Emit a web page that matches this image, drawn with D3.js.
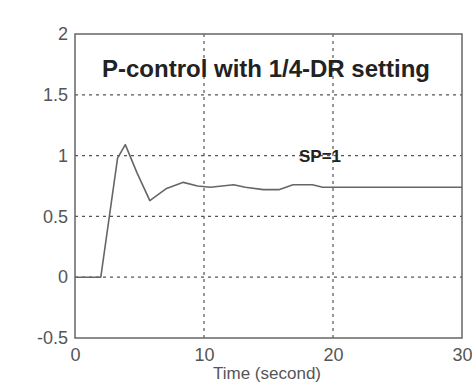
<!DOCTYPE html>
<html><head><meta charset="utf-8">
<script src="https://cdn.jsdelivr.net/npm/d3@7"></script>
<style>body{margin:0;background:#fff;}svg{display:block;}</style>
</head><body>
<script>
const timeVals = [0, 2, 3.3, 3.9, 4.8, 5.8, 7.1, 8.4, 9.5, 10.5, 12.3, 13.2, 14.6, 15.8, 16.9, 18.4, 19.2, 30];
const outputVals = [0, 0, 0.98, 1.09, 0.86, 0.63, 0.73, 0.78, 0.75, 0.74, 0.76, 0.74, 0.72, 0.72, 0.76, 0.76, 0.74, 0.74];
const xTicks = [0, 10, 20, 30];
const yTicks = [-0.5, 0, 0.5, 1, 1.5, 2];
const yTickLabels = ["-0.5", "0", "0.5", "1", "1.5", "2"];
const titleText = "P-control with 1/4-DR setting";
const spLabel = "SP=1";
const xLabel = "Time (second)";

const W = 472, H = 384;
const m = {left: 75, right: 10, top: 34, bottom: 46};
const FONT = "Liberation Sans, Arial, sans-serif";
const svg = d3.select("body").append("svg").attr("width", W).attr("height", H);
const x = d3.scaleLinear().domain([0, 30]).range([m.left, W - m.right]);
const y = d3.scaleLinear().domain([-0.5, 2]).range([H - m.bottom, m.top]);

const grid = svg.append("g").attr("stroke", "#555").attr("stroke-width", 1.2).attr("stroke-dasharray", "3,4");
grid.selectAll("line.h").data(yTicks.slice(1, -1)).enter().append("line")
  .attr("x1", x(0)).attr("x2", x(30)).attr("y1", d => y(d)).attr("y2", d => y(d));
grid.selectAll("line.v").data(xTicks.slice(1, -1)).enter().append("line")
  .attr("y1", y(-0.5)).attr("y2", y(2)).attr("x1", d => x(d)).attr("x2", d => x(d));

svg.append("rect").attr("x", x(0)).attr("y", y(2)).attr("width", x(30) - x(0)).attr("height", y(-0.5) - y(2))
  .attr("fill", "none").attr("stroke", "#666").attr("stroke-width", 1.5);

const xAxis = d3.axisBottom(x).tickValues(xTicks).tickSize(0).tickPadding(10).tickFormat(d3.format("d"));
const gx = svg.append("g").attr("transform", `translate(0,${y(-0.5)})`).call(xAxis);
gx.select(".domain").remove();
gx.selectAll("text").attr("font-family", FONT).attr("font-size", 18).attr("fill", "#555");

const yAxis = d3.axisLeft(y).tickValues(yTicks).tickSize(0).tickPadding(7).tickFormat((d, i) => yTickLabels[i]);
const gy = svg.append("g").attr("transform", `translate(${x(0)},0)`).call(yAxis);
gy.select(".domain").remove();
gy.selectAll("text").attr("font-family", FONT).attr("font-size", 18).attr("fill", "#555");

const line = d3.line().x((d, i) => x(timeVals[i])).y(d => y(d));
svg.append("path").datum(outputVals).attr("d", line).attr("fill", "none")
  .attr("stroke", "#666").attr("stroke-width", 1.6).attr("stroke-linejoin", "round");

svg.append("text").attr("x", 266).attr("y", 77).attr("text-anchor", "middle")
  .attr("font-family", FONT).attr("font-size", 24).attr("font-weight", "bold")
  .attr("fill", "#222").text(titleText);

svg.append("text").attr("x", 320).attr("y", 162).attr("text-anchor", "middle")
  .attr("font-family", FONT).attr("font-size", 17).attr("font-weight", "bold")
  .attr("fill", "#222").text(spLabel);

svg.append("text").attr("x", 267).attr("y", 379).attr("text-anchor", "middle")
  .attr("font-family", FONT).attr("font-size", 17)
  .attr("fill", "#555").text(xLabel);
</script>
</body></html>
